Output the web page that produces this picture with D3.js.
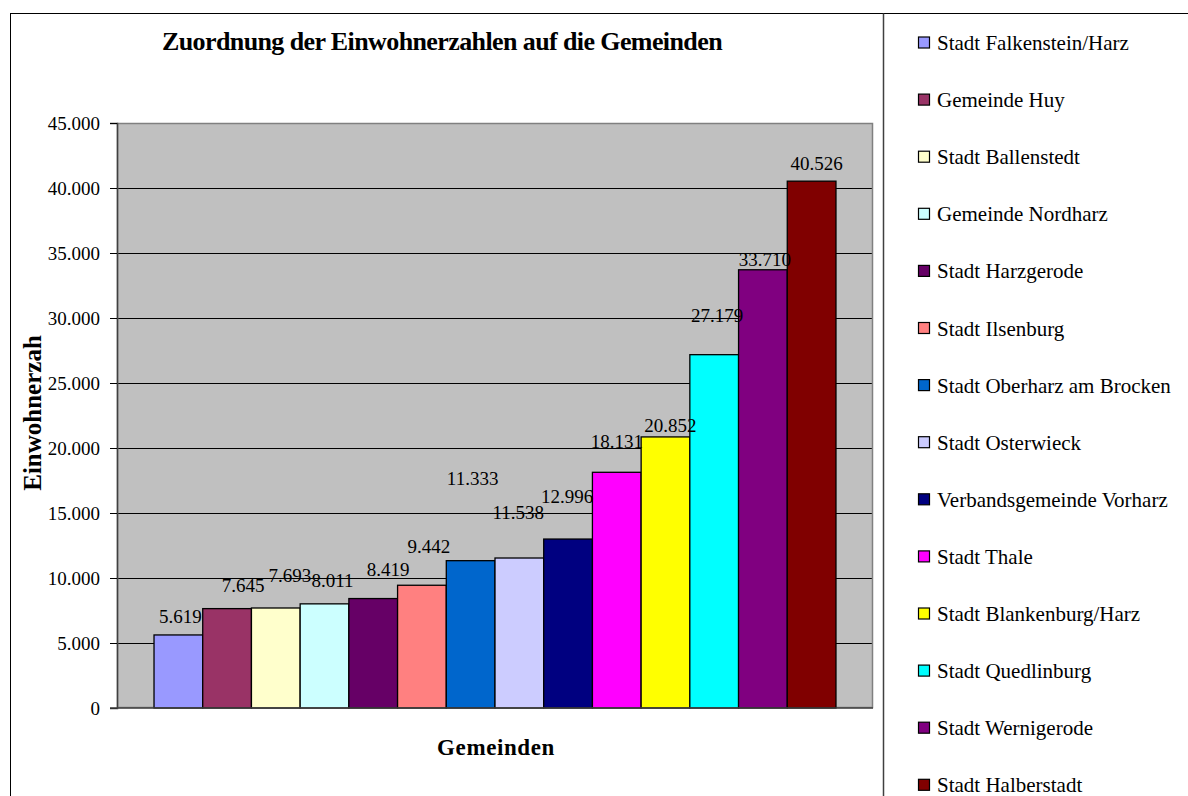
<!DOCTYPE html>
<html>
<head>
<meta charset="utf-8">
<script src="https://cdn.jsdelivr.net/npm/d3@7"></script>
<style>
  html, body { margin: 0; padding: 0; background: #fff; }
  svg { display: block; }
  svg text { font-family: 'Liberation Serif', 'DejaVu Serif', serif !important; }
</style>
</head>
<body>
<svg id="chart" width="1188" height="796"></svg>
<script>
// ---- data ----
const municipalities = [
  "Stadt Falkenstein/Harz",
  "Gemeinde Huy",
  "Stadt Ballenstedt",
  "Gemeinde Nordharz",
  "Stadt Harzgerode",
  "Stadt Ilsenburg",
  "Stadt Oberharz am Brocken",
  "Stadt Osterwieck",
  "Verbandsgemeinde Vorharz",
  "Stadt Thale",
  "Stadt Blankenburg/Harz",
  "Stadt Quedlinburg",
  "Stadt Wernigerode",
  "Stadt Halberstadt"
];
const population = [5619, 7645, 7693, 8011, 8419, 9442, 11333, 11538, 12996, 18131, 20852, 27179, 33710, 40526];
const yTicks = [0, 5000, 10000, 15000, 20000, 25000, 30000, 35000, 40000, 45000];
const chartTitle = "Zuordnung der Einwohnerzahlen auf die Gemeinden";
const yTitle = "Einwohnerzah";
const xTitle = "Gemeinden";

// ---- styles ----
const colors = ["#9999FF","#993366","#FFFFCC","#CCFFFF","#660066","#FF8080","#0066CC",
                "#CCCCFF","#000080","#FF00FF","#FFFF00","#00FFFF","#800080","#800000"];
// label placement nudges (px) relative to bar top centre, mimicking the original overlap layout
const labelNudge = [[2,-12],[16,-17],[14,-26],[8,-17],[15,-23],[7,-32],[2,-76],[-1,-39],[-1,-36],[0,-24],[5,-5],[3,-33],[2,-4],[5,-11]];
const FONT = "'Liberation Serif', 'DejaVu Serif', serif";

const svg = d3.select("#chart");
const plot = { left: 117, top: 123, right: 873, bottom: 708 };

// outer frame
svg.append("rect").attr("x", 10.5).attr("y", 13.5).attr("width", 1200).attr("height", 820)
  .attr("fill", "#fff").attr("stroke", "#000").attr("stroke-width", 1);
svg.append("line").attr("x1", 883.5).attr("x2", 883.5).attr("y1", 13.5).attr("y2", 800)
  .attr("stroke", "#404040").attr("stroke-width", 1.5);

const x = d3.scaleBand().domain(municipalities).range([plot.left, plot.right])
  .paddingInner(0).paddingOuter(0.76);
const y = d3.scaleLinear().domain([0, 45000]).range([plot.bottom, plot.top]);
const fmt = d3.formatLocale({ decimal: ",", thousands: ".", grouping: [3], currency: ["", "€"] }).format(",");

// plot area
svg.append("rect").attr("x", plot.left).attr("y", plot.top)
  .attr("width", plot.right - plot.left).attr("height", plot.bottom - plot.top)
  .attr("fill", "#C0C0C0");

// gridlines
svg.append("g").selectAll("line").data(yTicks.filter(d => d > 0 && d < 45000)).join("line")
  .attr("x1", plot.left).attr("x2", plot.right)
  .attr("y1", d => Math.round(y(d)) + 0.5).attr("y2", d => Math.round(y(d)) + 0.5)
  .attr("stroke", "#000").attr("stroke-width", 1);

// plot border
svg.append("rect").attr("x", plot.left + 0.5).attr("y", plot.top + 0.5)
  .attr("width", plot.right - plot.left - 1).attr("height", plot.bottom - plot.top - 1)
  .attr("fill", "none").attr("stroke", "#808080").attr("stroke-width", 1.5);

// y axis
const yAxis = d3.axisLeft(y).tickValues(yTicks).tickSize(7).tickPadding(10).tickFormat(d => fmt(d));
const ga = svg.append("g").attr("transform", `translate(${plot.left},0)`).call(yAxis)
  .attr("font-family", FONT).attr("font-size", 19);
ga.select(".domain").attr("stroke", "#404040").attr("stroke-width", 1.5);
ga.selectAll(".tick line").attr("stroke", "#000");
ga.selectAll(".tick text").attr("fill", "#000").attr("dy", "0.34em");

// bars
svg.append("g").selectAll("rect").data(population).join("rect")
  .attr("x", (d, i) => x(municipalities[i]))
  .attr("y", d => y(d))
  .attr("width", x.bandwidth())
  .attr("height", d => y(0) - y(d))
  .attr("fill", (d, i) => colors[i])
  .attr("stroke", "#000").attr("stroke-width", 1.3);

// baseline
svg.append("line").attr("x1", plot.left - 7).attr("x2", plot.right)
  .attr("y1", plot.bottom).attr("y2", plot.bottom).attr("stroke", "#404040").attr("stroke-width", 1.5);

// data labels
svg.append("g").attr("font-family", FONT).selectAll("text").data(population).join("text")
  .attr("x", (d, i) => x(municipalities[i]) + x.bandwidth() / 2 + labelNudge[i][0])
  .attr("y", (d, i) => y(d) + labelNudge[i][1])
  .attr("text-anchor", "middle").attr("font-size", 19).attr("fill", "#000")
  .text(d => fmt(d));

// titles
svg.append("text").attr("x", 442).attr("y", 50).attr("text-anchor", "middle").attr("font-family", FONT)
  .attr("font-size", 26).attr("font-weight", "bold").attr("letter-spacing", -0.6).text(chartTitle);
svg.append("text").attr("transform", "translate(41,413) rotate(-90)").attr("text-anchor", "middle").attr("font-family", FONT)
  .attr("font-size", 25).attr("font-weight", "bold").text(yTitle);
svg.append("text").attr("x", 496).attr("y", 755).attr("text-anchor", "middle").attr("font-family", FONT)
  .attr("font-size", 23).attr("font-weight", "bold").attr("letter-spacing", 0.6).text(xTitle);

// legend
const lg = svg.append("g").attr("font-family", FONT).selectAll("g").data(municipalities).join("g")
  .attr("transform", (d, i) => `translate(918,${43 + i * 57.1})`);
lg.append("rect").attr("x", 0.5).attr("y", -6).attr("width", 11).attr("height", 11)
  .attr("fill", (d, i) => colors[i]).attr("stroke", "#000").attr("stroke-width", 1.2);
lg.append("text").attr("x", 19).attr("y", 7).attr("font-size", 21).attr("fill", "#000").text(d => d);
</script>
</body>
</html>
